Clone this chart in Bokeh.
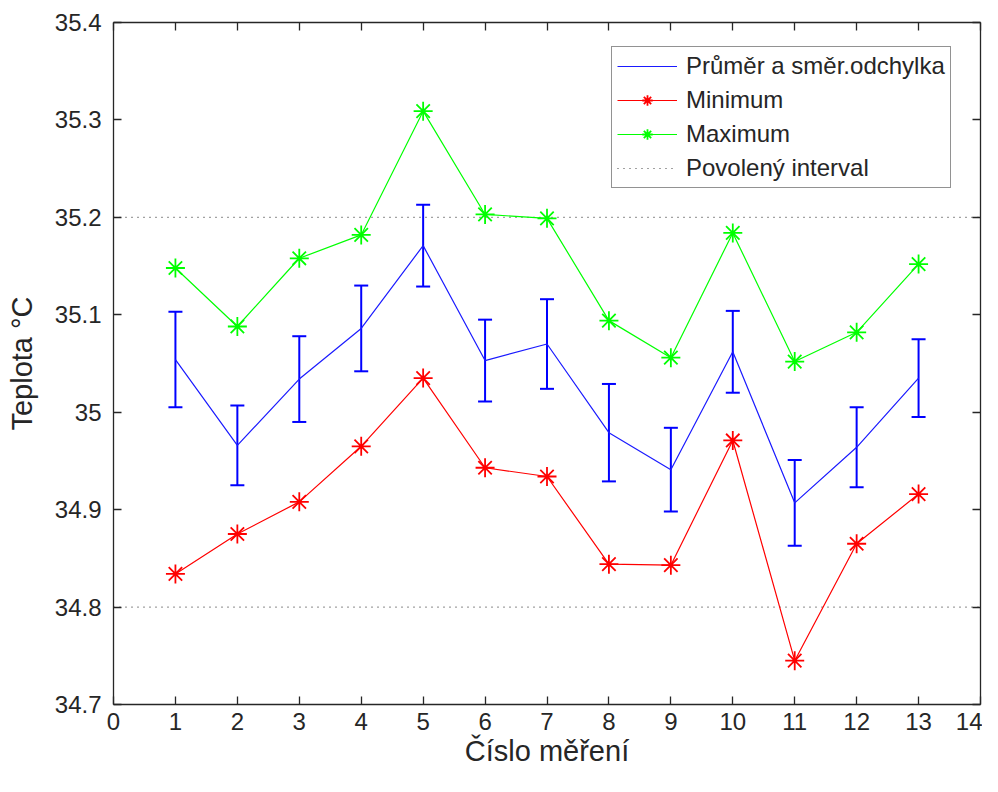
from bokeh.plotting import figure
from bokeh.models import (Range1d, FixedTicker, LinearAxis, Legend, LegendItem,
                          Whisker, TeeHead, ColumnDataSource, NumeralTickFormatter)
from bokeh.embed import file_html
from bokeh.resources import INLINE

# ---- data ----
measurement = [1, 2, 3, 4, 5, 6, 7, 8, 9, 10, 11, 12, 13]
mean_temp = [35.054, 34.966, 35.034, 35.086, 35.171, 35.053, 35.070, 34.979, 34.941, 35.062, 34.907, 34.964, 35.035]
std_temp = [0.049, 0.041, 0.044, 0.044, 0.042, 0.042, 0.046, 0.050, 0.043, 0.042, 0.044, 0.041, 0.040]
min_temp = [34.834, 34.875, 34.908, 34.965, 35.035, 34.943, 34.934, 34.844, 34.843, 34.971, 34.745, 34.865, 34.916]
max_temp = [35.148, 35.088, 35.158, 35.182, 35.309, 35.203, 35.199, 35.094, 35.056, 35.184, 35.052, 35.082, 35.152]
interval_low = 34.8
interval_high = 35.2
x_ticks = [0, 1, 2, 3, 4, 5, 6, 7, 8, 9, 10, 11, 12, 13, 14]
y_ticks = [34.7, 34.8, 34.9, 35.0, 35.1, 35.2, 35.3, 35.4]
x_limits = (0, 14)
y_limits = (34.7, 35.4)

FONT = "Liberation Sans"
AX = "#262626"

p = figure(width=982, height=776, output_backend="svg", toolbar_location=None,
           x_range=Range1d(*x_limits), y_range=Range1d(*y_limits),
           min_border_left=113, min_border_top=22, min_border_right=2, min_border_bottom=72,
           x_axis_label="Číslo měření", y_axis_label="Teplota °C")
p.outline_line_color = None
p.xgrid.visible = False
p.ygrid.visible = False
p.background_fill_color = "white"
p.border_fill_color = "white"

def style_axis(ax, show_labels):
    ax.axis_line_color = AX
    ax.axis_line_width = 1.3
    ax.major_tick_line_color = AX
    ax.major_tick_line_width = 1.3
    ax.major_tick_in = 8
    ax.major_tick_out = 0
    ax.minor_tick_line_color = None
    ax.major_label_text_font = FONT
    ax.major_label_text_color = AX
    ax.axis_label_text_font = FONT
    ax.axis_label_text_color = AX
    ax.axis_label_text_font_style = "normal"
    if show_labels:
        ax.major_label_text_font_size = "24px"
        ax.axis_label_text_font_size = "29px"
    else:
        ax.major_label_text_font_size = "0px"
        ax.major_label_standoff = 0

xt = FixedTicker(ticks=x_ticks)
yt = FixedTicker(ticks=y_ticks)
p.xaxis.ticker = xt
p.yaxis.ticker = yt
p.yaxis.formatter = NumeralTickFormatter(format="0.[0]")
style_axis(p.xaxis[0], True)
style_axis(p.yaxis[0], True)
p.xaxis.major_label_standoff = 8
p.xaxis.axis_label_standoff = 2
p.yaxis.major_label_standoff = 12
p.yaxis.axis_label_standoff = 14

top = LinearAxis(ticker=FixedTicker(ticks=x_ticks))
style_axis(top, False)
p.add_layout(top, "above")
right = LinearAxis(ticker=FixedTicker(ticks=y_ticks))
style_axis(right, False)
p.add_layout(right, "right")

# allowed interval
lo = p.line(list(x_limits), [interval_low, interval_low], line_color="#444444", line_width=1.2, line_dash="1 5")
hi = p.line(list(x_limits), [interval_high, interval_high], line_color="#444444", line_width=1.2, line_dash="1 5")

# mean with std
src = ColumnDataSource(dict(x=measurement, mean=mean_temp,
                            upper=[m + s for m, s in zip(mean_temp, std_temp)],
                            lower=[m - s for m, s in zip(mean_temp, std_temp)]))
mean_line = p.line("x", "mean", source=src, line_color="#1a1aff", line_width=1.2)
wh = Whisker(base="x", upper="upper", lower="lower", source=src,
             line_color="#0000ff", line_width=2,
             upper_head=TeeHead(size=14, line_color="#0000ff", line_width=2),
             lower_head=TeeHead(size=14, line_color="#0000ff", line_width=2))
p.add_layout(wh)

# min / max
min_line = p.line(measurement, min_temp, line_color="#ff0000", line_width=1.2)
min_pts = p.scatter(measurement, min_temp, marker="asterisk", size=19, line_color="#ff0000", line_width=1.8)
max_line = p.line(measurement, max_temp, line_color="#00ff00", line_width=1.2)
max_pts = p.scatter(measurement, max_temp, marker="asterisk", size=19, line_color="#00ff00", line_width=1.8)

legend = Legend(items=[
    LegendItem(label="Průměr a směr.odchylka", renderers=[mean_line]),
    LegendItem(label="Minimum", renderers=[min_line, min_pts]),
    LegendItem(label="Maximum", renderers=[max_line, max_pts]),
    LegendItem(label="Povolený interval", renderers=[lo]),
], location=(498, 516))
legend.label_text_font = FONT
legend.label_text_font_size = "24px"
legend.label_text_color = AX
legend.glyph_width = 60
legend.glyph_height = 26
legend.label_height = 26
legend.label_standoff = 9
legend.spacing = 6
legend.padding = 5
legend.margin = 0
legend.border_line_color = AX
legend.border_line_width = 1.3
legend.background_fill_color = "white"
legend.background_fill_alpha = 1
p.add_layout(legend)

open("out.html", "w").write(file_html(p, INLINE))
